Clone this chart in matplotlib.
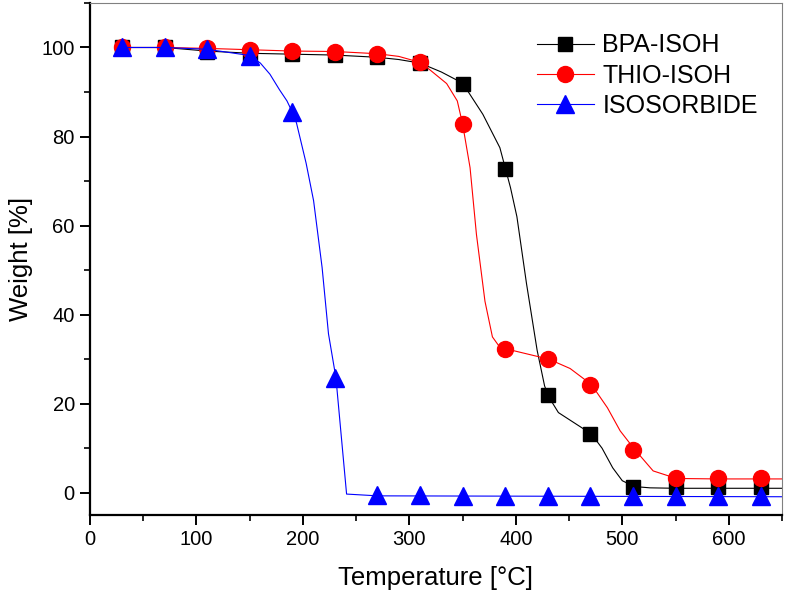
import matplotlib.pyplot as plt
from matplotlib.lines import Line2D
from matplotlib.ticker import MultipleLocator

plt.rcParams['font.family'] = ['Liberation Sans', 'DejaVu Sans']

# marker positions (every 40 degC)
marker_temp = [30, 70, 110, 150, 190, 230, 270, 310, 350, 390, 430, 470, 510, 550, 590, 630]
bpa_marks = [100, 100, 99.1, 98.6, 98.5, 98.4, 97.9, 96.5, 91.9, 72.8, 22.0, 13.2, 1.4, 1.2, 1.2, 1.2]
thio_marks = [100, 100, 99.8, 99.5, 99.2, 99.1, 98.6, 96.7, 82.8, 32.3, 30.0, 24.3, 9.7, 3.3, 3.2, 3.2]
iso_marks = [100, 100, 99.6, 98.2, 85.5, 25.8, -0.6, -0.6, -0.7, -0.7, -0.8, -0.8, -0.8, -0.8, -0.8, -0.8]

# continuous curves
bpa_temp = [30, 70, 110, 150, 190, 230, 270, 290, 310, 330, 350, 369, 385, 390, 395, 401, 410,
            420, 427, 431, 440, 471, 481, 491, 500, 511, 526, 550, 590, 630, 650]
bpa_wt = [100, 100, 99.2, 98.7, 98.5, 98.3, 97.8, 97.3, 96.5, 94.5, 92.0, 85.0, 77.5, 73.0, 68.5, 62.0, 47.0,
          32.0, 24.0, 21.5, 18.0, 13.2, 10.0, 5.6, 2.7, 1.4, 1.1, 1.0, 1.0, 1.0, 1.0]

thio_temp = [30, 70, 110, 150, 190, 230, 270, 290, 311, 335, 345, 350, 357, 363, 371, 378, 384,
             391, 431, 451, 471, 486, 498, 511, 529, 551, 590, 630, 650]
thio_wt = [100, 100, 99.8, 99.5, 99.2, 99.1, 98.6, 98.0, 96.6, 91.9, 88.0, 82.8, 73.0, 58.0, 43.0, 35.0, 33.0,
           32.3, 30.0, 27.9, 24.3, 19.1, 13.9, 9.9, 4.9, 3.2, 3.1, 3.1, 3.1]

iso_temp = [30, 70, 110, 150, 160, 169, 178, 185, 190, 194, 198, 203, 210, 218, 224, 231, 241, 270, 650]
iso_wt = [100, 100, 99.6, 98.2, 96.5, 94.0, 90.5, 88.0, 85.5, 83.0, 79.0, 74.0, 65.6, 50.6, 35.7, 25.8,
          -0.3, -0.7, -0.9]

series = [
    ('BPA-ISOH', bpa_temp, bpa_wt, bpa_marks, 'black', 's', 10.5),
    ('THIO-ISOH', thio_temp, thio_wt, thio_marks, 'red', 'o', 11.5),
    ('ISOSORBIDE', iso_temp, iso_wt, iso_marks, 'blue', '^', 12.5),
]

fig = plt.figure(figsize=(7.87, 5.94), dpi=100)
ax = fig.add_axes([0.1144, 0.133, 0.8792, 0.862])

handles = []
for name, t, w, m, col, mk, ms in series:
    ax.plot(t, w, color=col, lw=0.8)
    ax.plot(marker_temp, m, linestyle='none', marker=mk, markersize=ms, color=col)
    handles.append(Line2D([], [], color=col, lw=0.8, marker=mk, markersize=ms, label=name))

ax.set_xlim(0, 650)
ax.set_ylim(-5, 110)
ax.xaxis.set_major_locator(MultipleLocator(100))
ax.xaxis.set_minor_locator(MultipleLocator(50))
ax.yaxis.set_major_locator(MultipleLocator(20))
ax.yaxis.set_minor_locator(MultipleLocator(10))

for s in ['left', 'bottom']:
    ax.spines[s].set_linewidth(1.6)
for s in ['top', 'right']:
    ax.spines[s].set_linewidth(0.8)
    ax.spines[s].set_color('#808080')

ax.tick_params(which='major', direction='out', length=7, width=1.4, labelsize=14.5, pad=4)
ax.tick_params(which='minor', direction='out', length=4, width=1.2)

ax.set_xlabel('Temperature [°C]', fontsize=18.5, labelpad=12)
ax.set_ylabel('Weight [%]', fontsize=18.5, labelpad=6)

ax.legend(handles=handles, loc='upper left', bbox_to_anchor=(0.632, 0.96), frameon=False,
          fontsize=18, handlelength=2.25, handletextpad=0.35, labelspacing=0.25,
          borderaxespad=0.0)

plt.savefig('out.png', dpi=100)
